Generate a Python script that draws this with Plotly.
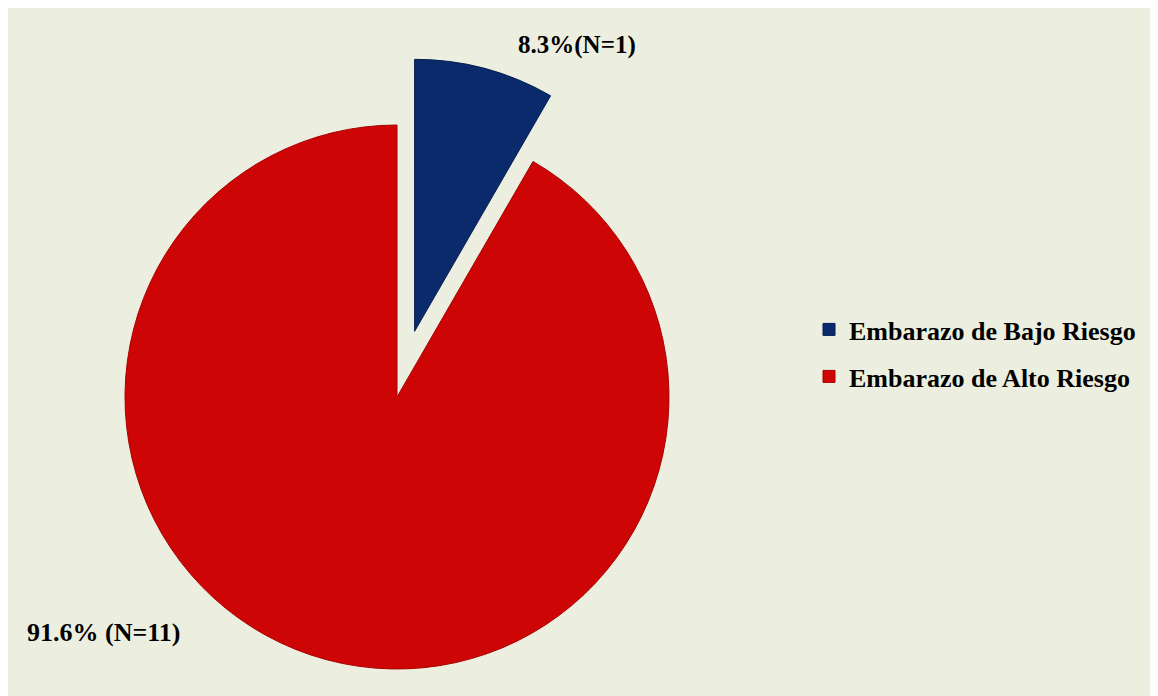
import math
import plotly.graph_objects as go

# ---- data ----
categories = ["Embarazo de Bajo Riesgo", "Embarazo de Alto Riesgo"]
counts = [1, 11]
slice_text = ["8.3%(N=1)", "91.6% (N=11)"]
colors = ["#0A2A6C", "#CD0505"]
pull_low_risk = 0.25

# ---- layout geometry ----
W, H = 1150, 688
CX, CY, R = 389, 389, 272
BG = "#ECEFDF"
GAP = " "
CLEAR = "rgba(0,0,0,0)"
FONT = "Liberation Serif"


def domain(cx, cy):
    return dict(x=[(cx - R) / W, (cx + R) / W],
                y=[1 - (cy + R) / H, 1 - (cy - R) / H])


total = sum(counts)
start_angle = 360 * counts[0] / total
half = math.radians(start_angle / 2)
dx = pull_low_risk * R * math.sin(half)
dy = -pull_low_risk * R * math.cos(half)

fig = go.Figure()

# high-risk slice (centered pie)
fig.add_trace(go.Pie(
    labels=[categories[1], GAP],
    values=[counts[1], counts[0]],
    marker=dict(colors=[colors[1], CLEAR],
                line=dict(color=["#A80000", CLEAR], width=[1, 0])),
    rotation=start_angle, direction="clockwise", sort=False,
    textinfo="none", hoverinfo="skip",
    domain=domain(CX, CY), legend="legend2",
))

# low-risk slice (exploded)
fig.add_trace(go.Pie(
    labels=[categories[0], GAP],
    values=[counts[0], counts[1]],
    marker=dict(colors=[colors[0], CLEAR],
                line=dict(color=["#061E55", CLEAR], width=[1, 0])),
    rotation=0, direction="clockwise", sort=False,
    textinfo="none", hoverinfo="skip",
    domain=domain(CX + dx, CY + dy), legend="legend",
))

legend_font = dict(family=FONT, size=26, color="black", weight="bold")
fig.update_layout(
    width=W, height=H,
    margin=dict(l=0, r=0, t=0, b=0),
    paper_bgcolor=BG,
    legend=dict(x=801 / W, y=1 - 298 / H, xanchor="left", yanchor="top",
                font=legend_font, bgcolor=CLEAR),
    legend2=dict(x=801 / W, y=1 - 345 / H, xanchor="left", yanchor="top",
                 font=legend_font, bgcolor=CLEAR),
    annotations=[
        dict(text=slice_text[0], x=569 / W, y=1 - 37 / H, xref="paper", yref="paper",
             xanchor="center", yanchor="middle", showarrow=False,
             font=dict(family=FONT, size=25, color="black", weight="bold")),
        dict(text=slice_text[1], x=17 / W, y=1 - 624 / H, xref="paper", yref="paper",
             xanchor="left", yanchor="middle", showarrow=False,
             font=dict(family=FONT, size=26, color="black", weight="bold")),
    ],
)

fig.write_html("out.html")
